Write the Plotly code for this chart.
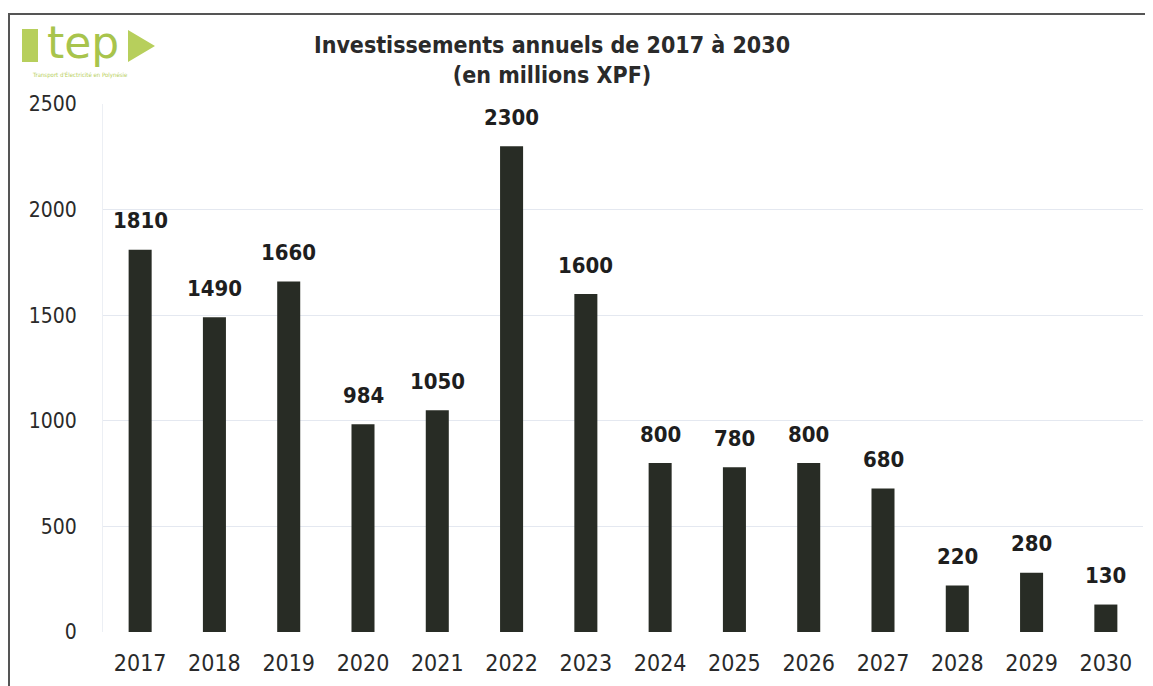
import plotly.graph_objects as go

years = ["2017", "2018", "2019", "2020", "2021", "2022", "2023",
         "2024", "2025", "2026", "2027", "2028", "2029", "2030"]
invest = [1810, 1490, 1660, 984, 1050, 2300, 1600, 800, 780, 800, 680, 220, 280, 130]
y_ticks = [0, 500, 1000, 1500, 2000, 2500]

# page has an 8px body margin; figure coordinates below are relative to the figure
W, H = 1145, 678
ML, MR, MT, MB = 95, 10, 96, 54
FONT = "DejaVu Sans Condensed, Roboto Condensed, sans-serif"

fig = go.Figure()
fig.add_trace(go.Bar(
    x=years, y=invest,
    marker=dict(color="#282c25", line=dict(width=0)),
    hoverinfo="x+y",
))

for i, v in enumerate(invest):
    fig.add_annotation(x=i, y=v, text=f"<b>{v}</b>", showarrow=False,
                       yshift=29, font=dict(size=22, color="#1e1e1e", family=FONT))

pw = W - ML - MR
ph = H - MT - MB
def px(x):
    return (x - ML) / pw
def py(y):
    return (H - MB - y) / ph

LOGO = "#b7cf5c"
shapes = [
    # outer frame
    dict(type="line", xref="paper", yref="paper", x0=px(1), x1=px(1), y0=py(H), y1=py(6),
         line=dict(color="#555555", width=2)),
    dict(type="line", xref="paper", yref="paper", x0=px(0), x1=px(W), y0=py(6), y1=py(6),
         line=dict(color="#555555", width=2)),
    # logo bar
    dict(type="rect", xref="paper", yref="paper", x0=px(14), x1=px(30), y0=py(54), y1=py(21),
         fillcolor=LOGO, line=dict(width=0)),
    # logo triangle
    dict(type="path", xref="paper", yref="paper",
         path=f"M {px(120)},{py(22)} L {px(147)},{py(38)} L {px(120)},{py(54)} Z",
         fillcolor=LOGO, line=dict(width=0)),
]

fig.add_annotation(xref="paper", yref="paper", x=px(75), y=py(34), text="tep",
                   showarrow=False, font=dict(size=44, color="#a8c44c", family="DejaVu Sans"),
                   xanchor="center", yanchor="middle")
fig.add_annotation(xref="paper", yref="paper", x=px(72), y=py(67),
                   text="Transport d'Électricité en Polynésie", showarrow=False,
                   font=dict(size=6, color=LOGO), xanchor="center", yanchor="middle")

fig.update_layout(
    width=W, height=H,
    margin=dict(l=ML, r=MR, t=MT, b=MB, autoexpand=False),
    paper_bgcolor="white", plot_bgcolor="white",
    bargap=0.69,
    showlegend=False,
    shapes=shapes,
    title=dict(text="<b>Investissements annuels de 2017 à 2030<br>(en millions XPF)</b>",
               x=544 / W, xanchor="center", y=1 - 45 / H, yanchor="middle",
               font=dict(size=23, color="#2a2a2a", family=FONT)),
    font=dict(family=FONT, color="#2a2a2a"),
    xaxis=dict(type="category", range=[-0.5, 13.5], showgrid=False, showline=False, ticks="",
               tickfont=dict(size=23), ticklabelstandoff=15),
    yaxis=dict(range=[0, 2500], tickvals=y_ticks, showgrid=True, gridcolor="#e4e8f0",
               gridwidth=1, zeroline=False, showline=True, linecolor="#eceff4", linewidth=1,
               ticks="", tickfont=dict(size=21), ticklabelstandoff=21),
)

fig.write_html("out.html")
